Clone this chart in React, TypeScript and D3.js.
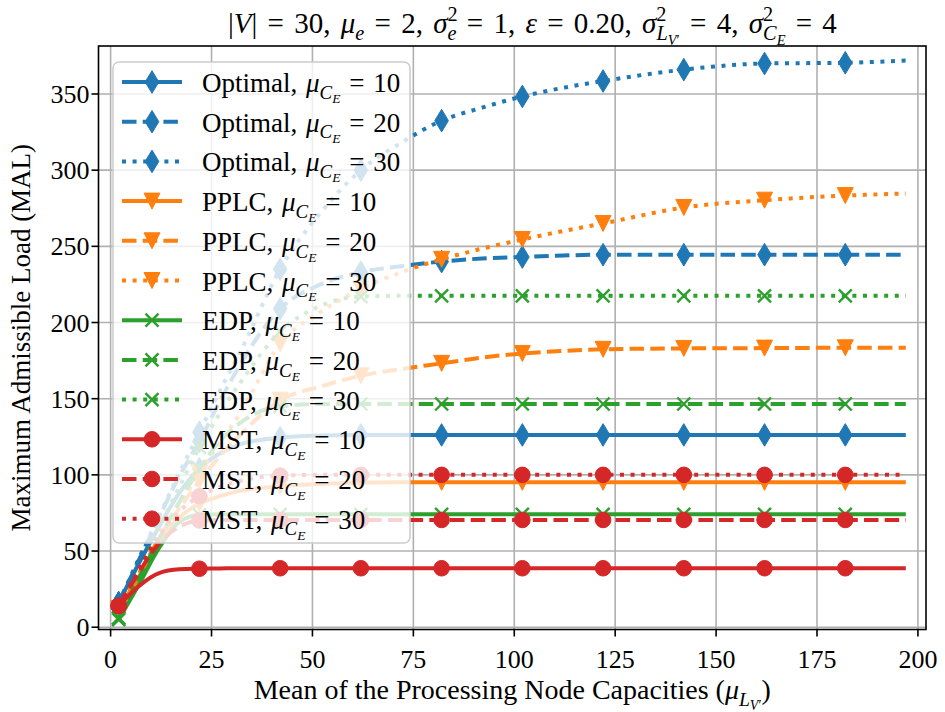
import React from 'react';
import * as d3 from 'd3';

// x positions of the simulated capacities (markers every 20)
const capacities = [2, 7, 12, 17, 22, 27, 32, 42, 52, 62, 72, 82, 92, 102, 112, 122, 142, 162, 182, 197];
const markerCaps = [2, 22, 42, 62, 82, 102, 122, 142, 162, 182];

const optimal10 = [16, 42, 66, 88, 104, 114, 120, 124.5, 125.8, 126.2, 126.2, 126.2, 126.2, 126.2, 126.2, 126.2, 126.2, 126.2, 126.2, 126.2];
const optimal20 = [16, 44, 72, 99, 122, 148, 172, 209, 225, 233, 237, 240, 242, 243, 244, 244.5, 244.5, 244.5, 244.5, 244.5];
const optimal30 = [16, 45, 73, 101, 128, 155, 180, 235, 272, 300, 318, 332.5, 341, 348.4, 354, 358.5, 366, 370, 370.5, 372];
const pplc10 = [12, 33, 55, 72, 81, 86, 89.5, 92.5, 94, 94.8, 95.1, 95.1, 95.1, 95.1, 95.1, 95.1, 95.1, 95.1, 95.1, 95.1];
const pplc20 = [12, 35, 58, 78, 96, 112, 126, 149, 158, 165, 169.5, 173.2, 177, 179.7, 181.3, 182.4, 183, 183.2, 183.4, 183.4];
const pplc30 = [12, 35, 58, 80, 101, 121, 140, 186, 207, 222, 233, 241.5, 248.5, 254.5, 260, 265, 275.5, 280.3, 283.3, 284.7];
const edp10 = [5, 28, 52, 69, 73.8, 74.1, 74.1, 74.1, 74.1, 74.1, 74.1, 74.1, 74.1, 74.1, 74.1, 74.1, 74.1, 74.1, 74.1, 74.1];
const edp20 = [6, 32, 58, 82, 104, 122, 134, 145, 146.5, 146.5, 146.5, 146.5, 146.5, 146.5, 146.5, 146.5, 146.5, 146.5, 146.5, 146.5];
const edp30 = [6, 35, 65, 92, 118, 140, 160, 194, 211, 217, 217.5, 217.5, 217.5, 217.5, 217.5, 217.5, 217.5, 217.5, 217.5, 217.5];
const mst10 = [14, 27, 35.5, 38, 38.4, 38.6, 38.7, 38.7, 38.7, 38.7, 38.7, 38.7, 38.7, 38.7, 38.7, 38.7, 38.7, 38.7, 38.7, 38.7];
const mst20 = [14, 36, 55, 66, 70, 70.4, 70.4, 70.4, 70.4, 70.4, 70.4, 70.4, 70.4, 70.4, 70.4, 70.4, 70.4, 70.4, 70.4, 70.4];
const mst30 = [14, 38, 60, 76, 86, 92, 96, 99.5, 100, 100, 100, 100, 100, 100, 100, 100, 100, 100, 100, 100];

const xTicks = [0, 25, 50, 75, 100, 125, 150, 175, 200];
const yTicks = [0, 50, 100, 150, 200, 250, 300, 350];

const methods = ['Optimal', 'PPLC', 'EDP', 'MST'];
const methodColors = ['#1f77b4', '#ff7f0e', '#2ca02c', '#d62728'];
const methodMarkers = ['diamond', 'triangle', 'x', 'circle'];
const muValues = [10, 20, 30];
const muDashes = [null, '14.5 6.2', '4 6.6'];

const seriesData = [optimal10, optimal20, optimal30, pplc10, pplc20, pplc30, edp10, edp20, edp30, mst10, mst20, mst30];

const FONT = '"Liberation Serif", "DejaVu Serif", serif';

const x = d3.scaleLinear().domain([-3, 202]).range([98.5, 926]);
const y = d3.scaleLinear().domain([-1.5, 381.5]).range([629.5, 46]);

type Seg = { t: string; it?: boolean; lv?: number; dx?: number };
const OFF = [0, 0.25, 0.4, -0.4];
const SZ = [1, 0.7, 0.5, 0.7];

function MathText(props: { segs: Seg[]; fs: number; x: number; y: number; anchor?: string; ws?: number }) {
  const { segs, fs } = props;
  let prev = 0;
  return (
    <text x={props.x} y={props.y} fontSize={fs} fontFamily={FONT} textAnchor={props.anchor || 'start'}
      style={{ whiteSpace: 'pre', wordSpacing: (props.ws || 0) + 'px' }} fill="#000">
      {segs.map((s, i) => {
        const lv = s.lv || 0;
        const dy = (OFF[lv] - OFF[prev]) * fs;
        prev = lv;
        return (
          <tspan key={i} dy={dy || undefined} dx={s.dx} fontSize={SZ[lv] * fs} fontStyle={s.it ? 'italic' : 'normal'}>
            {s.t}
          </tspan>
        );
      })}
    </text>
  );
}

function Marker({ kind, cx, cy, color }: { kind: string; cx: number; cy: number; color: string }) {
  if (kind === 'diamond') {
    return <path d={`M${cx},${cy - 11.3}L${cx + 6.8},${cy}L${cx},${cy + 11.3}L${cx - 6.8},${cy}Z`} fill={color} stroke={color} strokeWidth={1} />;
  }
  if (kind === 'triangle') {
    return <path d={`M${cx - 8},${cy - 8}L${cx + 8},${cy - 8}L${cx},${cy + 8}Z`} fill={color} stroke={color} strokeWidth={1} />;
  }
  if (kind === 'circle') {
    return <circle cx={cx} cy={cy} r={7.8} fill={color} stroke={color} strokeWidth={1} />;
  }
  return (
    <path d={`M${cx - 6.5},${cy - 6.5}L${cx + 6.5},${cy + 6.5}M${cx - 6.5},${cy + 6.5}L${cx + 6.5},${cy - 6.5}`} stroke={color} strokeWidth={2.4} fill="none" />
  );
}

const line = d3.line<number>()
  .x((_, i) => x(capacities[i]))
  .y(d => y(d))
  .curve(d3.curveMonotoneX);

export default function App() {
  const series = seriesData.map((vals, k) => {
    const m = Math.floor(k / 3);
    const j = k % 3;
    return { vals, method: methods[m], color: methodColors[m], marker: methodMarkers[m], mu: muValues[j], dash: muDashes[j] };
  });

  const [x0, x1] = x.range();
  const [yb, yt] = y.range();

  const legendX = 113;
  const legendY = 62;
  const rowH = 39.7;

  const titleSegs: Seg[] = [
    { t: '|' }, { t: 'V', it: true }, { t: '| = 30, ' },
    { t: 'μ', it: true }, { t: 'e', it: true, lv: 1 }, { t: ' = 2, ' },
    { t: 'σ', it: true }, { t: '2', lv: 3 }, { t: 'e', it: true, lv: 1, dx: -10 }, { t: ' = 1, ' },
    { t: 'ε', it: true }, { t: ' = 0.20, ' },
    { t: 'σ', it: true }, { t: '2', lv: 3 }, { t: 'L', it: true, lv: 1, dx: -10 }, { t: 'V', it: true, lv: 2 }, { t: '′', lv: 2 }, { t: ' = 4, ' },
    { t: 'σ', it: true }, { t: '2', lv: 3 }, { t: 'C', it: true, lv: 1, dx: -10 }, { t: 'E', it: true, lv: 2 }, { t: ' = 4' },
  ];

  const xLabelSegs: Seg[] = [
    { t: 'Mean of the Processing Node Capacities (' },
    { t: 'μ', it: true }, { t: 'L', it: true, lv: 1 }, { t: 'V', it: true, lv: 2 }, { t: '′', lv: 2 }, { t: ')' },
  ];

  return (
    <svg width={945} height={712} style={{ position: 'absolute', left: 0, top: 0, background: '#fff' }}>
      <rect x={0} y={0} width={945} height={712} fill="#fff" />
      {/* grid */}
      {xTicks.map(t => (
        <line key={'gx' + t} x1={x(t)} x2={x(t)} y1={yt} y2={yb} stroke="#b0b0b0" strokeWidth={1.6} />
      ))}
      {yTicks.map(t => (
        <line key={'gy' + t} x1={x0} x2={x1} y1={y(t)} y2={y(t)} stroke="#b0b0b0" strokeWidth={1.6} />
      ))}

      {/* series */}
      <g>
        {series.map((s, k) => (
          <g key={k}>
            <path d={line(s.vals) || ''} fill="none" stroke={s.color} strokeWidth={4} strokeDasharray={s.dash || undefined} />
            {capacities.map((c, i) => markerCaps.includes(c) ? (
              <Marker key={i} kind={s.marker} cx={x(c)} cy={y(s.vals[i])} color={s.color} />
            ) : null)}
          </g>
        ))}
      </g>

      {/* spines */}
      <rect x={x0} y={yt} width={x1 - x0} height={yb - yt} fill="none" stroke="#000" strokeWidth={1.6} />

      {/* ticks */}
      {xTicks.map(t => (
        <g key={'tx' + t}>
          <line x1={x(t)} x2={x(t)} y1={yb} y2={yb + 7} stroke="#000" strokeWidth={1.6} />
          <text x={x(t)} y={yb + 38} textAnchor="middle" fontFamily={FONT} fontSize={26}>{t}</text>
        </g>
      ))}
      {yTicks.map(t => (
        <g key={'ty' + t}>
          <line x1={x0 - 7} x2={x0} y1={y(t)} y2={y(t)} stroke="#000" strokeWidth={1.6} />
          <text x={x0 - 9} y={y(t) + 9} textAnchor="end" fontFamily={FONT} fontSize={26}>{t}</text>
        </g>
      ))}

      {/* labels */}
      <MathText segs={titleSegs} fs={29} x={228} y={33} ws={3} />
      <MathText segs={xLabelSegs} fs={28} x={(x0 + x1) / 2} y={699} anchor="middle" />
      <text transform={`translate(30,${(yt + yb) / 2}) rotate(-90)`} textAnchor="middle" fontFamily={FONT} fontSize={27}>
        Maximum Admissible Load (MAL)
      </text>

      {/* legend */}
      <g>
        <rect x={legendX} y={legendY} width={297} height={481} rx={6} fill="#fff" fillOpacity={0.8} stroke="#cccccc" strokeWidth={1.5} />
        {series.map((s, k) => {
          const cy = legendY + 20 + k * rowH;
          return (
            <g key={k}>
              <line x1={122} x2={182} y1={cy} y2={cy} stroke={s.color} strokeWidth={4} strokeDasharray={s.dash || undefined} />
              <Marker kind={s.marker} cx={152} cy={cy} color={s.color} />
              <MathText fs={27} x={202} y={cy + 10} ws={2} segs={[
                { t: s.method + ', ' }, { t: 'μ', it: true }, { t: 'C', it: true, lv: 1 }, { t: 'E', it: true, lv: 2 }, { t: ' = ' + s.mu },
              ]} />
            </g>
          );
        })}
      </g>
    </svg>
  );
}
